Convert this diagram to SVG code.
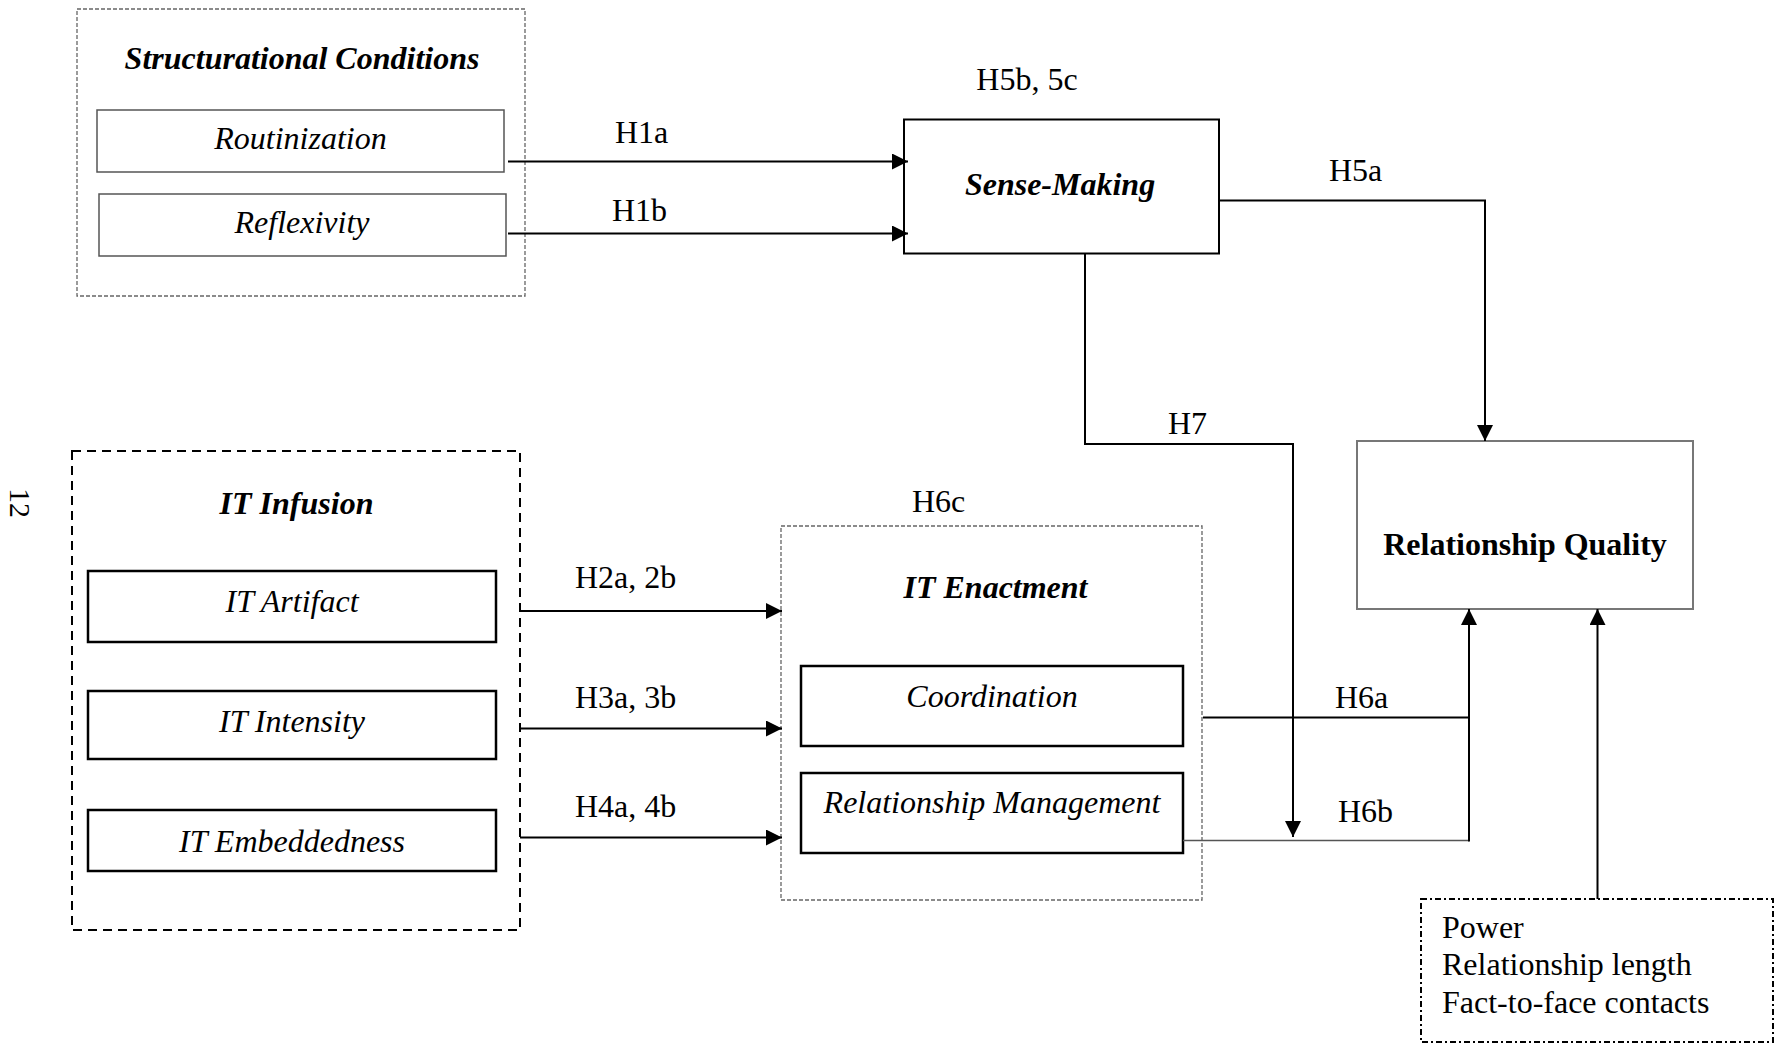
<svg xmlns="http://www.w3.org/2000/svg" width="1775" height="1046" viewBox="0 0 1775 1046">
<style>
text{font-family:"Liberation Serif","Times New Roman",serif;font-size:32px;fill:#000}
.c{text-anchor:middle}
.bi{font-weight:bold;font-style:italic}
.i{font-style:italic}
.b{font-weight:bold}
.fine{fill:none;stroke:#666;stroke-width:1.3;stroke-dasharray:4 2}
.long{fill:none;stroke:#000;stroke-width:2;stroke-dasharray:9 6}
.dd{fill:none;stroke:#000;stroke-width:2;stroke-dasharray:6 3 2 3}
.thin{fill:#fff;stroke:#555;stroke-width:1.5}
.thick{fill:#fff;stroke:#000;stroke-width:2.5}
.conn{fill:none;stroke:#000;stroke-width:2}
</style>
<defs>
<marker id="arr" markerUnits="userSpaceOnUse" markerWidth="16" markerHeight="16" viewBox="0 0 16 16" refX="16" refY="8" orient="auto">
<path d="M0,0 L16,8 L0,16 z" fill="#000"/>
</marker>
</defs>
<rect width="1775" height="1046" fill="#fff"/>

<text transform="translate(10,503) rotate(90)" class="c" style="font-size:30px">12</text>

<g id="structurational">
<rect class="fine" x="77" y="9" width="448" height="287"/>
<text class="c bi" x="302" y="69">Structurational Conditions</text>
</g>
<g id="routinization">
<rect class="thin" x="97" y="110" width="407" height="62"/>
<text class="c i" x="300.5" y="149">Routinization</text>
</g>
<g id="reflexivity">
<rect class="thin" x="99" y="194" width="407" height="62"/>
<text class="c i" x="302" y="233">Reflexivity</text>
</g>

<g id="sensemaking">
<rect x="904" y="119.5" width="315" height="134" fill="#fff" stroke="#000" stroke-width="2"/>
<text class="c bi" x="1060" y="195">Sense-Making</text>
</g>

<g id="relationshipquality">
<rect x="1357" y="441" width="336" height="168" fill="#fff" stroke="#777" stroke-width="2"/>
<text class="c b" x="1525" y="555">Relationship Quality</text>
</g>

<g id="itinfusion">
<rect class="long" x="72" y="451" width="448" height="479"/>
<text class="c bi" x="296.5" y="514">IT Infusion</text>
</g>
<g id="itartifact">
<rect class="thick" x="88" y="571" width="408" height="71"/>
<text class="c i" x="292" y="612">IT Artifact</text>
</g>
<g id="itintensity">
<rect class="thick" x="88" y="691" width="408" height="68"/>
<text class="c i" x="292" y="732">IT Intensity</text>
</g>
<g id="itembeddedness">
<rect class="thick" x="88" y="810" width="408" height="61"/>
<text class="c i" x="292" y="852">IT Embeddedness</text>
</g>

<g id="itenactment">
<rect class="fine" x="781" y="526" width="421" height="374"/>
<text class="c bi" x="995.5" y="598">IT Enactment</text>
</g>
<g id="coordination">
<rect class="thick" x="801" y="666" width="382" height="80"/>
<text class="c i" x="992" y="707">Coordination</text>
</g>
<g id="relationshipmanagement">
<rect class="thick" x="801" y="773" width="382" height="80"/>
<text class="c i" x="992" y="813">Relationship Management</text>
</g>

<g id="controls">
<rect class="dd" x="1421" y="899" width="352" height="143"/>
<text x="1442" y="938">Power</text>
<text x="1442" y="975">Relationship length</text>
<text x="1442" y="1013">Fact-to-face contacts</text>
</g>

<g id="connectors">
<path class="conn" d="M508,161.5 H908" marker-end="url(#arr)"/>
<path class="conn" d="M508,233.5 H908" marker-end="url(#arr)"/>
<path class="conn" d="M1219,200.5 H1485 V441" marker-end="url(#arr)"/>
<path class="conn" d="M1085,253.5 V444 H1293 V837" marker-end="url(#arr)"/>
<path class="conn" d="M520,611 H782" marker-end="url(#arr)"/>
<path class="conn" d="M520,728.5 H782" marker-end="url(#arr)"/>
<path class="conn" d="M520,837.5 H782" marker-end="url(#arr)"/>
<path class="conn" d="M1203,717.5 H1469"/>
<path d="M1183,840.5 H1469" fill="none" stroke="#555" stroke-width="1.5"/>
<path class="conn" d="M1469,841.5 V609" marker-end="url(#arr)"/>
<path class="conn" d="M1597.5,899 V609" marker-end="url(#arr)"/>
</g>

<g id="labels">
<text x="615" y="143">H1a</text>
<text x="612" y="221">H1b</text>
<text class="c" x="1027" y="90">H5b, 5c</text>
<text x="1329" y="181">H5a</text>
<text x="1168" y="434">H7</text>
<text x="912" y="512">H6c</text>
<text x="575" y="588">H2a, 2b</text>
<text x="575" y="708">H3a, 3b</text>
<text x="575" y="817">H4a, 4b</text>
<text x="1335" y="708">H6a</text>
<text x="1338" y="822">H6b</text>
</g>
</svg>
